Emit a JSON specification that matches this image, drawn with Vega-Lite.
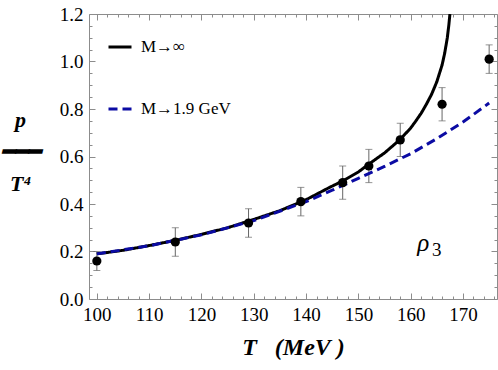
{
  "$schema": "https://vega.github.io/schema/vega-lite/v6.json",
  "width": 408,
  "height": 285,
  "autosize": {"type": "none"},
  "padding": {"left": 89, "top": 14, "right": 1, "bottom": 71},
  "background": "white",
  "config": {
    "view": {"stroke": "#8c8c8c", "strokeWidth": 1},
    "font": "Liberation Serif",
    "axis": {"labelFont": "Liberation Serif", "titleFont": "Liberation Serif", "labelColor": "black", "titleColor": "black", "tickColor": "#8c8c8c", "ticks": true, "domain": false, "grid": false}
  },
  "datasets": {
    "pts": [
      {"T": 100, "p": 0.16, "lo": 0.12, "hi": 0.20},
      {"T": 115, "p": 0.24, "lo": 0.18, "hi": 0.30},
      {"T": 129, "p": 0.32, "lo": 0.26, "hi": 0.38},
      {"T": 139, "p": 0.41, "lo": 0.35, "hi": 0.47},
      {"T": 147, "p": 0.49, "lo": 0.42, "hi": 0.56},
      {"T": 152, "p": 0.56, "lo": 0.49, "hi": 0.63},
      {"T": 158, "p": 0.67, "lo": 0.60, "hi": 0.74},
      {"T": 166, "p": 0.82, "lo": 0.75, "hi": 0.89},
      {"T": 175, "p": 1.01, "lo": 0.95, "hi": 1.07}
    ],
    "curves": [
      {"model": "M→∞", "T": 100, "p": 0.19},
      {"model": "M→∞", "T": 105, "p": 0.205},
      {"model": "M→∞", "T": 110, "p": 0.225},
      {"model": "M→∞", "T": 115, "p": 0.247},
      {"model": "M→∞", "T": 120, "p": 0.272},
      {"model": "M→∞", "T": 125, "p": 0.30},
      {"model": "M→∞", "T": 130, "p": 0.335},
      {"model": "M→∞", "T": 135, "p": 0.372},
      {"model": "M→∞", "T": 140, "p": 0.418},
      {"model": "M→∞", "T": 144.5, "p": 0.47},
      {"model": "M→∞", "T": 147, "p": 0.497},
      {"model": "M→∞", "T": 150, "p": 0.535},
      {"model": "M→∞", "T": 152, "p": 0.568},
      {"model": "M→∞", "T": 155, "p": 0.615},
      {"model": "M→∞", "T": 158, "p": 0.672},
      {"model": "M→∞", "T": 160, "p": 0.72},
      {"model": "M→∞", "T": 161, "p": 0.75},
      {"model": "M→∞", "T": 162, "p": 0.782},
      {"model": "M→∞", "T": 163, "p": 0.82},
      {"model": "M→∞", "T": 164, "p": 0.862},
      {"model": "M→∞", "T": 165, "p": 0.915},
      {"model": "M→∞", "T": 166, "p": 0.985},
      {"model": "M→∞", "T": 166.5, "p": 1.035},
      {"model": "M→∞", "T": 167, "p": 1.1},
      {"model": "M→∞", "T": 167.3, "p": 1.155},
      {"model": "M→∞", "T": 167.5, "p": 1.2},
      {"model": "M→1.9 GeV", "T": 100, "p": 0.19},
      {"model": "M→1.9 GeV", "T": 110, "p": 0.224},
      {"model": "M→1.9 GeV", "T": 120, "p": 0.27},
      {"model": "M→1.9 GeV", "T": 130, "p": 0.33},
      {"model": "M→1.9 GeV", "T": 140, "p": 0.41},
      {"model": "M→1.9 GeV", "T": 145, "p": 0.458},
      {"model": "M→1.9 GeV", "T": 150, "p": 0.508},
      {"model": "M→1.9 GeV", "T": 155, "p": 0.558},
      {"model": "M→1.9 GeV", "T": 160, "p": 0.612},
      {"model": "M→1.9 GeV", "T": 165, "p": 0.675},
      {"model": "M→1.9 GeV", "T": 170, "p": 0.745},
      {"model": "M→1.9 GeV", "T": 175, "p": 0.825}
    ],
    "ann": [
      {"label": "ρ", "T": 162.4, "p": 0.202, "kind": "rho"},
      {"label": "3", "T": 165.0, "p": 0.181, "kind": "sub"}
    ]
  },
  "resolve": {"axis": {"x": "independent", "y": "independent"}},
  "layer": [
    {
      "data": {"name": "pts"},
      "mark": {"type": "rule", "color": "#666666", "strokeWidth": 1},
      "encoding": {
        "x": {"field": "T", "type": "quantitative", "scale": {"domain": [98.5, 176.5], "nice": false, "zero": false},
          "axis": {"orient": "bottom", "values": [100,110,120,130,140,150,160,170],
            "tickSize": -6, "labelFontSize": 19, "labelPadding": 12, "labelFlush": false,
            "title": "T\u00a0\u00a0\u00a0(MeV\u00a0)", "titleFontSize": 24, "titleFontWeight": "bold", "titleFontStyle": "italic", "titlePadding": 11}},
        "y": {"field": "lo", "type": "quantitative", "scale": {"domain": [0, 1.2], "nice": false},
          "axis": {"orient": "left", "values": [0,0.2,0.4,0.6,0.8,1.0,1.2],
            "format": ".1f", "tickSize": -6, "labelFontSize": 19, "labelPadding": 12, "labelFlush": false,
            "title": ["p", "━━━", "T⁴"], "titleFontSize": 22, "titleFontWeight": "bold", "titleFontStyle": "italic",
            "titleAngle": 0, "titleAlign": "center", "titleBaseline": "middle", "titleX": -69, "titleY": 105, "titleLineHeight": 32}},
        "y2": {"field": "hi"}
      }
    },
    {
      "data": {"name": "pts"},
      "mark": {"type": "tick", "orient": "horizontal", "color": "#666666", "size": 7, "thickness": 1},
      "encoding": {
        "x": {"field": "T", "type": "quantitative",
          "axis": {"orient": "top", "values": [100,110,120,130,140,150,160,170], "labels": false, "title": null, "tickSize": -6}},
        "y": {"field": "lo", "type": "quantitative",
          "axis": {"orient": "right", "values": [0,0.2,0.4,0.6,0.8,1.0,1.2], "labels": false, "title": null, "tickSize": -6}}
      }
    },
    {
      "data": {"name": "pts"},
      "mark": {"type": "tick", "orient": "horizontal", "color": "#666666", "size": 7, "thickness": 1},
      "encoding": {
        "x": {"field": "T", "type": "quantitative",
          "axis": {"orient": "bottom", "values": [102,104,106,108,112,114,116,118,122,124,126,128,132,134,136,138,142,144,146,148,152,154,156,158,162,164,166,168,172,174,176], "labels": false, "title": null, "tickSize": -3}},
        "y": {"field": "hi", "type": "quantitative",
          "axis": {"orient": "left", "values": [0.05,0.1,0.15,0.25,0.3,0.35,0.45,0.5,0.55,0.65,0.7,0.75,0.85,0.9,0.95,1.05,1.1,1.15], "labels": false, "title": null, "tickSize": -3}}
      }
    },
    {
      "data": {"name": "curves"},
      "mark": {"type": "line", "strokeWidth": 3, "clip": true},
      "encoding": {
        "x": {"field": "T", "type": "quantitative",
          "axis": {"orient": "top", "values": [102,104,106,108,112,114,116,118,122,124,126,128,132,134,136,138,142,144,146,148,152,154,156,158,162,164,166,168,172,174,176], "labels": false, "title": null, "tickSize": -3}},
        "y": {"field": "p", "type": "quantitative",
          "axis": {"orient": "right", "values": [0.05,0.1,0.15,0.25,0.3,0.35,0.45,0.5,0.55,0.65,0.7,0.75,0.85,0.9,0.95,1.05,1.1,1.15], "labels": false, "title": null, "tickSize": -3}},
        "color": {"field": "model", "type": "nominal", "scale": {"domain": ["M→∞", "M→1.9 GeV"], "range": ["black", "#0b0ba3"]},
          "legend": {"orient": "none", "legendX": 18, "legendY": 20, "title": null, "symbolType": "stroke", "symbolSize": 529, "symbolStrokeWidth": 3, "labelFont": "Liberation Serif", "labelFontSize": 17, "labelOffset": 8, "rowPadding": 41, "padding": 0}},
        "strokeDash": {"field": "model", "type": "nominal", "scale": {"domain": ["M→∞", "M→1.9 GeV"], "range": [[1, 0], [9, 5]]}, "legend": null},
        "order": {"field": "T", "type": "quantitative"}
      }
    },
    {
      "data": {"name": "pts"},
      "mark": {"type": "point", "filled": true, "color": "black", "opacity": 1, "size": 85},
      "encoding": {
        "x": {"field": "T", "type": "quantitative", "axis": null},
        "y": {"field": "p", "type": "quantitative", "axis": null}
      }
    },
    {
      "data": {"name": "ann"},
      "transform": [{"filter": "datum.kind === 'rho'"}],
      "mark": {"type": "text", "fontSize": 25, "fontStyle": "italic", "font": "Liberation Serif", "baseline": "alphabetic", "align": "center", "color": "black"},
      "encoding": {
        "x": {"field": "T", "type": "quantitative", "axis": null},
        "y": {"field": "p", "type": "quantitative", "axis": null},
        "text": {"field": "label"}
      }
    },
    {
      "data": {"name": "ann"},
      "transform": [{"filter": "datum.kind === 'sub'"}],
      "mark": {"type": "text", "fontSize": 19, "font": "Liberation Serif", "baseline": "alphabetic", "align": "center", "color": "black"},
      "encoding": {
        "x": {"field": "T", "type": "quantitative", "axis": null},
        "y": {"field": "p", "type": "quantitative", "axis": null},
        "text": {"field": "label"}
      }
    }
  ]
}
